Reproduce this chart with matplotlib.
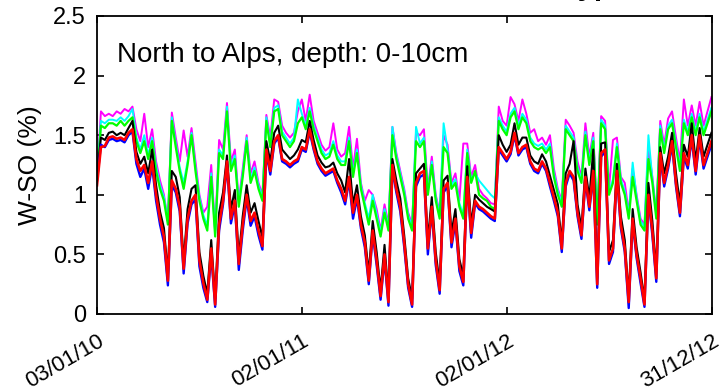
import numpy as np
import pandas as pd
import matplotlib
matplotlib.use("Agg")
import matplotlib.pyplot as plt

plt.rcParams['font.family'] = ['Liberation Sans', 'DejaVu Sans']

# weekly samples, 03/01/2010 .. 30/12/2012
dates = pd.date_range('2010-01-03', periods=157, freq='7D')

red = [1.08, 1.40, 1.41, 1.48, 1.49, 1.47, 1.48, 1.46, 1.52, 1.55,
       1.30, 1.20, 1.25, 1.10, 1.28, 1.00, 0.80, 0.65, 0.28, 1.12,
       1.05, 0.90, 0.38, 0.80, 0.95, 1.00, 0.45, 0.26, 0.12, 0.55,
       0.08, 0.75, 0.95, 1.28, 0.80, 0.95, 0.42, 0.75, 1.00, 0.78,
       0.85, 0.70, 0.57, 1.38, 1.20, 1.45, 1.50, 1.30, 1.28, 1.25,
       1.28, 1.30, 1.40, 1.38, 1.55, 1.40, 1.28, 1.22, 1.18, 1.20,
       1.22, 1.12, 1.05, 0.95, 1.15, 0.85, 1.00, 0.75, 0.60, 0.28,
       0.70, 0.45, 0.15, 0.50, 0.10, 1.25, 1.05, 0.90, 0.60, 0.25,
       0.08, 1.10, 1.18, 1.20, 0.55, 0.90, 0.45, 0.20, 1.05, 1.10,
       0.60, 0.80, 0.40, 0.27, 1.15, 0.68, 0.95, 0.90, 0.88, 0.85,
       0.82, 0.80, 1.40, 1.35, 1.30, 1.36, 1.52, 1.35, 1.40, 1.42,
       1.28, 1.22, 1.20, 1.28, 1.22, 1.10, 0.98, 0.85, 0.55, 1.10,
       1.20, 1.15, 0.85, 0.66, 1.15, 0.90, 1.20, 0.25, 1.35, 1.38,
       0.45, 0.55, 1.20, 0.75, 0.55, 0.10, 0.80, 0.50, 0.30, 0.08,
       1.00, 0.70, 0.30, 1.35, 1.10, 1.25, 1.45, 1.10, 0.85, 1.35,
       1.25, 1.50, 1.20, 1.50, 1.25, 1.35, 1.45]

black = [1.15, 1.48, 1.46, 1.52, 1.53, 1.50, 1.52, 1.50, 1.56, 1.62,
         1.36, 1.26, 1.32, 1.18, 1.38, 1.08, 0.86, 0.72, 0.33, 1.20,
         1.15, 0.98, 0.44, 0.88, 1.05, 1.08, 0.52, 0.32, 0.17, 0.62,
         0.13, 0.85, 1.02, 1.33, 0.88, 1.04, 0.48, 0.82, 1.08, 0.85,
         0.93, 0.78, 0.64, 1.45, 1.28, 1.52, 1.58, 1.38, 1.34, 1.30,
         1.33, 1.38, 1.46, 1.44, 1.62, 1.46, 1.33, 1.27, 1.23, 1.24,
         1.27, 1.18, 1.12, 1.02, 1.30, 0.92, 1.08, 0.82, 0.66, 0.34,
         0.78, 0.52, 0.20, 0.58, 0.15, 1.30, 1.12, 0.97, 0.66, 0.30,
         0.13, 1.18, 1.22, 1.26, 0.62, 0.98, 0.52, 0.25, 1.12, 1.16,
         0.68, 0.88, 0.46, 0.32, 1.24, 0.75, 1.00, 0.96, 0.93, 0.90,
         0.88, 0.86, 1.50, 1.42, 1.36, 1.42, 1.60, 1.42, 1.48, 1.48,
         1.33, 1.28, 1.26, 1.34, 1.28, 1.16, 1.04, 0.92, 0.60, 1.18,
         1.26, 1.45, 0.92, 0.72, 1.22, 0.97, 1.38, 0.30, 1.43, 1.44,
         0.52, 0.62, 1.26, 0.82, 0.62, 0.14, 0.88, 0.56, 0.35, 0.12,
         1.10, 0.78, 0.36, 1.40, 1.18, 1.32, 1.52, 1.18, 0.92, 1.42,
         1.32, 1.60, 1.28, 1.56, 1.32, 1.42, 1.52]

blue = [1.12, 1.42, 1.40, 1.46, 1.47, 1.45, 1.46, 1.44, 1.50, 1.53,
        1.26, 1.15, 1.22, 1.05, 1.24, 0.95, 0.75, 0.60, 0.24, 1.08,
        1.02, 0.86, 0.34, 0.76, 0.92, 0.96, 0.40, 0.22, 0.10, 0.50,
        0.06, 0.70, 0.92, 1.25, 0.76, 0.92, 0.37, 0.70, 0.97, 0.74,
        0.82, 0.66, 0.54, 1.35, 1.17, 1.43, 1.48, 1.28, 1.26, 1.23,
        1.26, 1.28, 1.38, 1.36, 1.53, 1.38, 1.26, 1.20, 1.16, 1.18,
        1.20, 1.10, 1.02, 0.92, 1.12, 0.80, 0.97, 0.72, 0.56, 0.25,
        0.67, 0.41, 0.12, 0.46, 0.07, 1.22, 1.02, 0.86, 0.56, 0.22,
        0.06, 1.07, 1.15, 1.17, 0.50, 0.87, 0.41, 0.17, 1.02, 1.07,
        0.56, 0.77, 0.36, 0.24, 1.12, 0.64, 0.93, 0.88, 0.86, 0.83,
        0.80, 0.78, 1.38, 1.33, 1.28, 1.34, 1.50, 1.33, 1.38, 1.40,
        1.26, 1.20, 1.18, 1.26, 1.20, 1.07, 0.95, 0.82, 0.52, 1.07,
        1.18, 1.12, 0.82, 0.63, 1.12, 0.87, 1.17, 0.22, 1.32, 1.36,
        0.42, 0.52, 1.17, 0.72, 0.52, 0.05, 0.77, 0.47, 0.26, 0.06,
        0.97, 0.66, 0.27, 1.32, 1.07, 1.22, 1.42, 1.07, 0.82, 1.32,
        1.22, 1.47, 1.17, 1.47, 1.22, 1.32, 1.42]

green = [1.12, 1.58, 1.56, 1.60, 1.60, 1.58, 1.62, 1.58, 1.62, 1.65,
         1.45, 1.35, 1.45, 1.30, 1.45, 1.20, 1.05, 0.95, 0.75, 1.62,
         1.40, 1.20, 1.05, 1.25, 1.50, 1.20, 0.95, 0.80, 0.70, 1.15,
         0.65, 1.35, 1.30, 1.70, 1.20, 1.30, 0.90, 1.15, 1.45, 1.10,
         1.20, 1.05, 0.95, 1.62, 1.40, 1.70, 1.72, 1.50, 1.45, 1.40,
         1.45, 1.60, 1.65, 1.55, 1.70, 1.55, 1.45, 1.35, 1.30, 1.32,
         1.42, 1.30, 1.25, 1.25, 1.45, 1.15, 1.35, 1.05, 0.90, 0.75,
         0.95, 0.80, 0.65, 0.85, 0.70, 1.50, 1.30, 1.15, 1.00, 0.80,
         0.70, 1.45, 1.40, 1.45, 1.00, 1.25, 0.95, 0.80, 1.40, 1.35,
         1.05, 1.10, 0.90, 0.80, 1.35, 1.10, 1.20, 1.00, 0.97, 0.95,
         0.90, 0.88, 1.62, 1.55, 1.50, 1.65, 1.70, 1.55, 1.65, 1.60,
         1.45, 1.40, 1.38, 1.40, 1.35, 1.40, 1.15, 1.00, 0.90, 1.55,
         1.50, 1.45, 1.20, 1.10, 1.50, 1.25, 1.45, 0.75, 1.60, 1.55,
         1.00, 1.10, 1.40, 1.10, 1.00, 0.80, 1.15, 0.95, 0.75, 0.70,
         1.30, 1.10, 0.80, 1.55, 1.35, 1.55, 1.60, 1.40, 1.20, 1.60,
         1.50, 1.65, 1.50, 1.65, 1.50, 1.60, 1.70]

magenta = [1.15, 1.70, 1.66, 1.68, 1.66, 1.70, 1.68, 1.72, 1.70, 1.74,
           1.55, 1.45, 1.68, 1.40, 1.55, 1.28, 1.12, 1.00, 0.78, 1.69,
           1.48, 1.28, 1.54, 1.32, 1.56, 1.28, 1.00, 0.85, 0.90, 1.25,
           0.70, 1.46, 1.38, 1.77, 1.28, 1.38, 0.95, 1.22, 1.50, 1.18,
           1.28, 1.10, 1.00, 1.67, 1.48, 1.80, 1.78, 1.58, 1.52, 1.48,
           1.52, 1.70, 1.80, 1.62, 1.84, 1.62, 1.52, 1.42, 1.37, 1.40,
           1.60, 1.38, 1.32, 1.35, 1.57, 1.22, 1.47, 1.10, 0.95, 1.04,
           1.00, 0.88, 0.70, 0.92, 0.75, 1.57, 1.35, 1.20, 1.05, 0.85,
           0.75, 1.52, 1.50, 1.55, 1.05, 1.32, 1.00, 0.85, 1.50, 1.42,
           1.10, 1.18, 0.95, 1.43, 1.43, 1.15, 1.25, 1.05, 1.00, 0.97,
           0.93, 0.92, 1.74, 1.62, 1.58, 1.82, 1.76, 1.62, 1.80, 1.68,
           1.52, 1.55, 1.45, 1.48, 1.42, 1.50, 1.22, 1.05, 0.95, 1.63,
           1.58, 1.52, 1.28, 1.15, 1.60, 1.32, 1.52, 0.80, 1.66, 1.62,
           1.05, 1.46, 1.48, 1.15, 1.10, 0.85, 1.22, 1.00, 0.80, 0.75,
           1.40, 1.15, 0.85, 1.62, 1.42, 1.64, 1.70, 1.48, 1.28, 1.80,
           1.58, 1.75, 1.58, 1.78, 1.58, 1.70, 1.82]

cyan = [1.14, 1.62, 1.60, 1.63, 1.63, 1.62, 1.65, 1.62, 1.66, 1.72,
        1.48, 1.38, 1.50, 1.33, 1.48, 1.24, 1.08, 0.98, 0.78, 1.65,
        1.43, 1.23, 1.10, 1.28, 1.52, 1.23, 0.98, 0.83, 0.74, 1.18,
        0.68, 1.38, 1.33, 1.74, 1.23, 1.33, 0.93, 1.18, 1.48, 1.13,
        1.23, 1.08, 0.98, 1.65, 1.43, 1.73, 1.75, 1.53, 1.48, 1.43,
        1.48, 1.80, 1.68, 1.58, 1.73, 1.58, 1.48, 1.38, 1.33, 1.35,
        1.45, 1.33, 1.28, 1.28, 1.48, 1.18, 1.38, 1.08, 0.93, 0.80,
        1.00, 0.84, 0.68, 0.88, 0.73, 1.57, 1.33, 1.18, 1.03, 0.83,
        0.73, 1.57, 1.43, 1.48, 1.03, 1.28, 0.98, 0.83, 1.60, 1.38,
        1.08, 1.13, 0.93, 0.83, 1.38, 1.13, 1.18, 1.12, 1.08, 1.04,
        1.00, 0.97, 1.65, 1.58, 1.53, 1.68, 1.73, 1.58, 1.68, 1.63,
        1.48, 1.43, 1.41, 1.43, 1.38, 1.43, 1.18, 1.03, 0.93, 1.58,
        1.53, 1.48, 1.23, 1.13, 1.53, 1.28, 1.48, 0.78, 1.63, 1.58,
        1.03, 1.13, 1.43, 1.13, 1.03, 0.83, 1.27, 0.98, 0.78, 0.73,
        1.50, 1.13, 0.83, 1.58, 1.38, 1.58, 1.63, 1.43, 1.23, 1.63,
        1.53, 1.68, 1.53, 1.68, 1.53, 1.63, 1.73]

xtick_dates = ['2010-01-03', '2011-01-02', '2012-01-02', '2012-12-31']
xtick_labels = ['03/01/10', '02/01/11', '02/01/12', '31/12/12']
yticks = [0, 0.5, 1, 1.5, 2, 2.5]
ytick_labels = ['0', '0.5', '1', '1.5', '2', '2.5']

fig = plt.figure(figsize=(7.23, 3.92), dpi=100)
ax = fig.add_axes([97/723, 1 - 314/392, 615/723, 298/392])

# drawing order: upper series first, red last
for vals, col, lw in [(magenta, '#ff00ff', 1.4), (cyan, '#00ffff', 1.4), (green, '#00ff00', 1.6),
                      (black, 'black', 1.5), (blue, '#0000ff', 1.7), (red, '#ff0000', 1.9)]:
    ax.plot(dates, vals, color=col, lw=lw)

ax.set_xlim(pd.Timestamp('2010-01-03'), pd.Timestamp('2012-12-31'))
ax.set_ylim(0, 2.5)
ax.set_xticks([pd.Timestamp(d) for d in xtick_dates])
ax.set_xticklabels(xtick_labels, rotation=30, ha='right', rotation_mode='anchor', fontsize=16)
ax.set_yticks(yticks)
ax.set_yticklabels(ytick_labels, fontsize=17)
ax.tick_params(direction='in', top=True, right=True, length=5, width=1.2, pad=8)
ax.tick_params(axis='x', pad=12)
for s in ax.spines.values():
    s.set_linewidth(1.3)

ax.set_ylabel('W-SO (%)', fontsize=19, labelpad=8)
ax.text(0.033, 0.87, 'North to Alps, depth: 0-10cm', transform=ax.transAxes,
        fontsize=20, va='center', ha='left')

# title of the full figure, cut off at the top edge
fig.text(0.786, 1.012, 'type', fontsize=21, fontweight='bold', ha='left', va='baseline')

fig.savefig('out.png', dpi=100)
